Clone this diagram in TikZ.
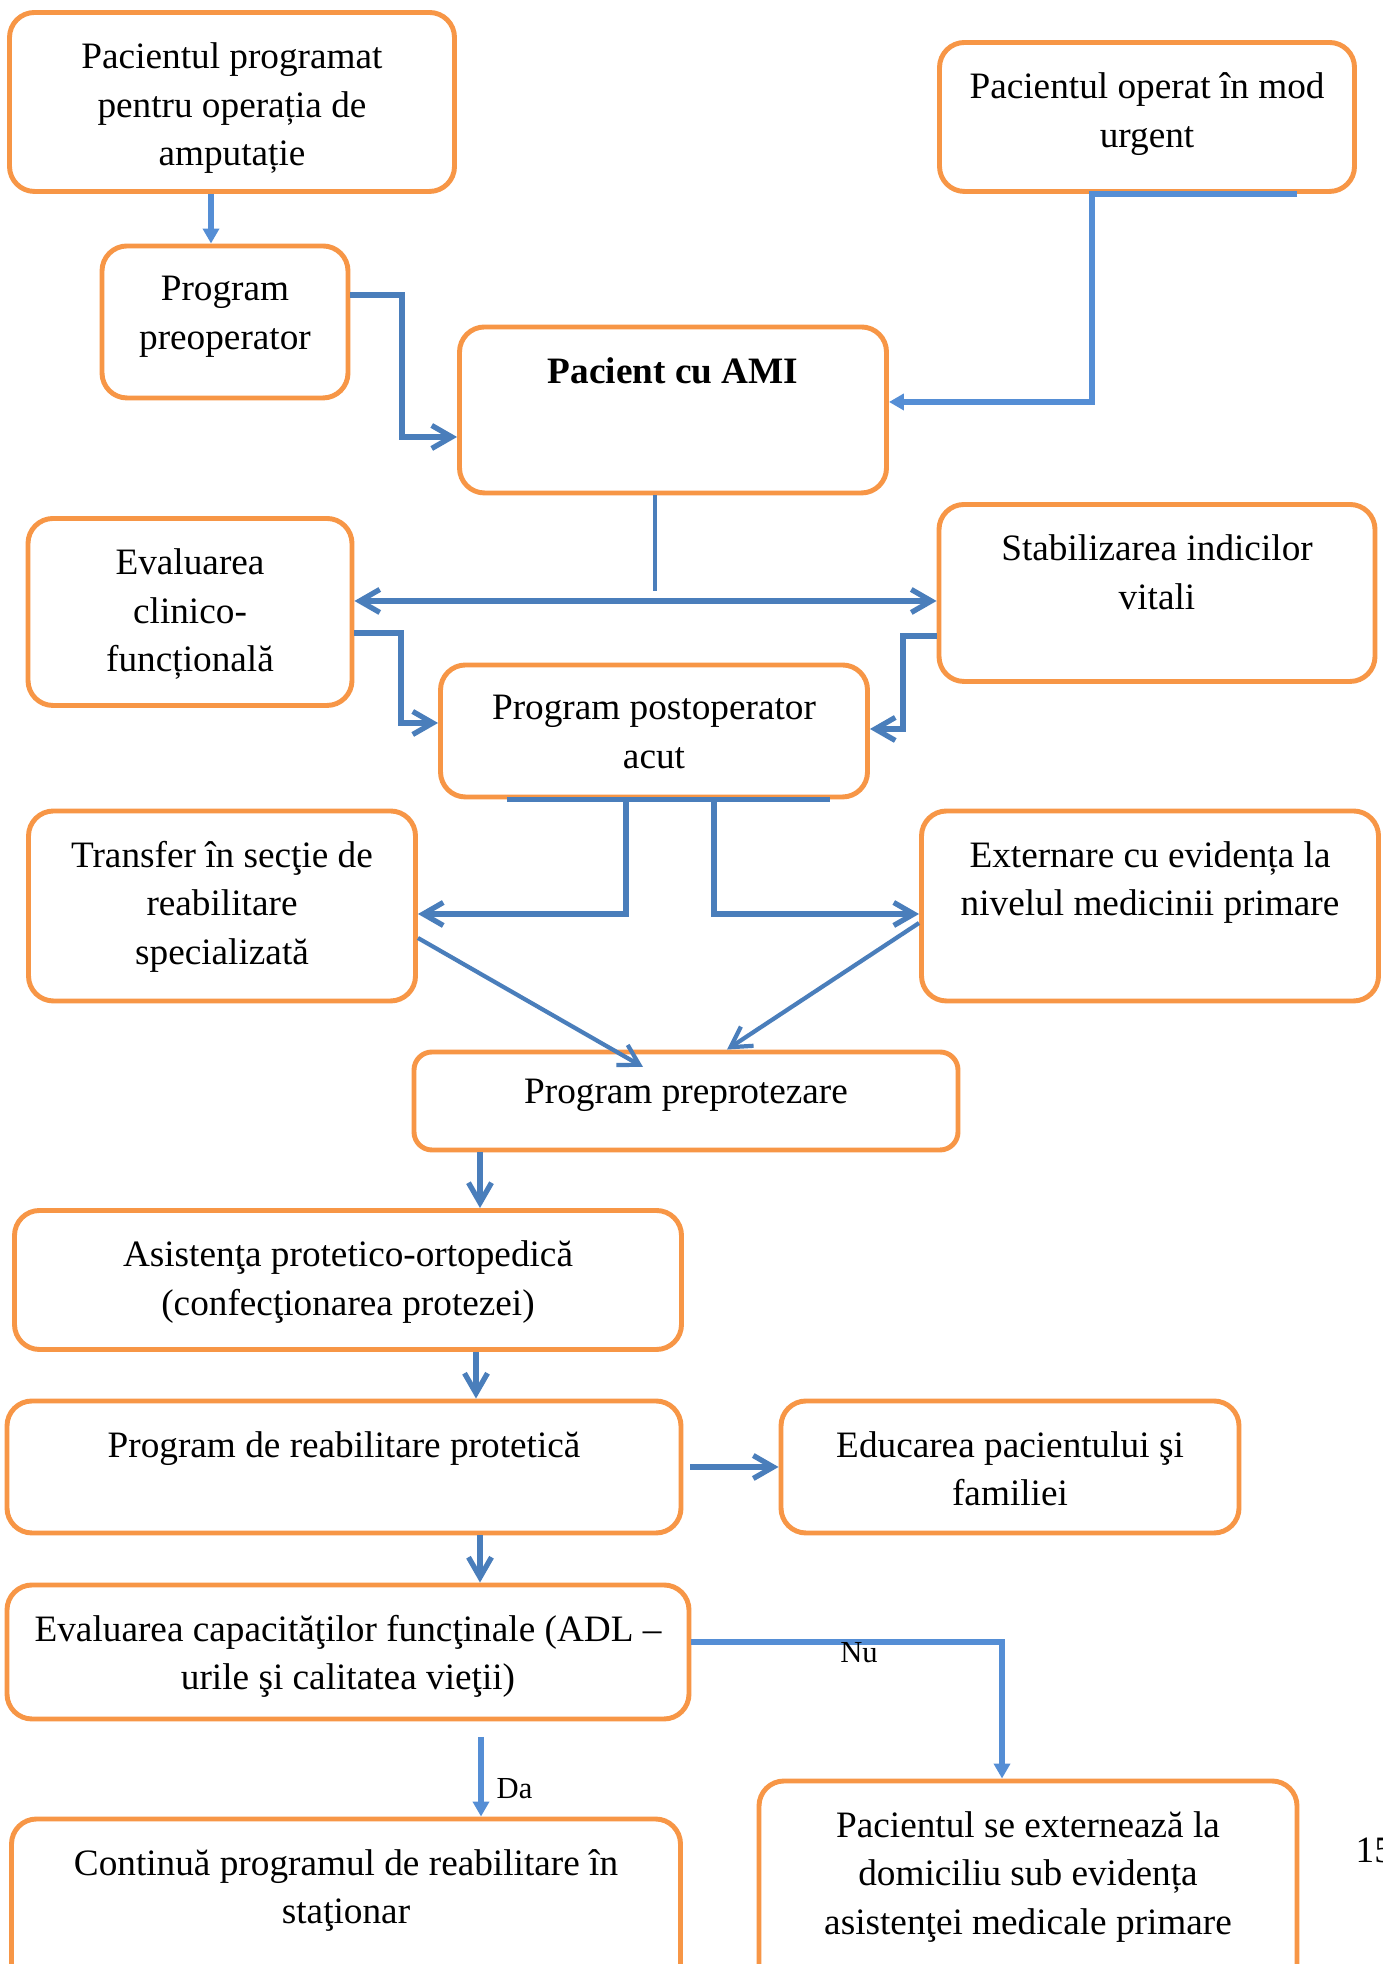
\documentclass[tikz,border=0pt]{standalone}
\usepackage{fontspec}
\setmainfont{Liberation Serif}
\usetikzlibrary{arrows.meta,positioning}
\definecolor{boxorange}{HTML}{F79646}
\definecolor{linkblue}{HTML}{4A7EBB}
\definecolor{leadblue}{HTML}{558ED5}
\begin{document}
\begin{tikzpicture}[
  >={Straight Barb[length=2mm,width=2.3mm]},
  box/.style={draw=boxorange, line width=1.4pt, rounded corners=0.25cm},
  txt/.style={align=center, inner sep=0pt, font=\fontsize{10.6}{13.8}\selectfont},
  link/.style={draw=linkblue, line width=1.5pt},
  lead/.style={draw=leadblue, line width=1.5pt, -{Triangle[length=1.5mm,width=1.6mm]}},
  lbl/.style={inner sep=0pt, font=\fontsize{8.7}{10}\selectfont}
]
\path[use as bounding box, fill=white] (0,0) rectangle (13.82,19.64);

\node[box, minimum width=4.45cm, minimum height=1.79cm] (amp) at (2.32,18.62) {};
\node[box, minimum width=4.15cm, minimum height=1.49cm] (urgent) at (11.47,18.47) {};
\node[box, minimum width=2.46cm, minimum height=1.52cm] (preop) at (2.25,16.42) {};
\node[box, minimum width=4.27cm, minimum height=1.66cm] (ami) at (6.73,15.54) {};
\node[box, minimum width=3.24cm, minimum height=1.87cm] (eval) at (1.90,13.52) {};
\node[box, minimum width=4.36cm, minimum height=1.77cm] (stab) at (11.57,13.71) {};
\node[box, minimum width=4.27cm, minimum height=1.32cm] (postop) at (6.54,12.33) {};
\node[box, minimum width=3.87cm, minimum height=1.90cm] (transfer) at (2.22,10.58) {};
\node[box, minimum width=4.57cm, minimum height=1.90cm] (extern) at (11.50,10.58) {};
\node[box, rounded corners=0.18cm, minimum width=5.44cm, minimum height=0.98cm] (preprot) at (6.86,8.63) {};
\node[box, minimum width=6.67cm, minimum height=1.39cm] (asist) at (3.48,6.84) {};
\node[box, minimum width=6.74cm, minimum height=1.32cm] (reab) at (3.44,4.97) {};
\node[box, minimum width=4.58cm, minimum height=1.32cm] (educ) at (10.10,4.97) {};
\node[box, minimum width=6.82cm, minimum height=1.34cm] (evalcap) at (3.48,3.12) {};
\node[box, minimum width=6.69cm, minimum height=2.0cm] (cont) at (3.46,0.45) {};
\node[box, minimum width=5.38cm, minimum height=2.3cm] (home) at (10.28,0.68) {};

\node[txt, below=0.32cm of amp.north] (ampT) {Pacientul programat\\pentru operația de\\amputație};
\node[txt, below=0.32cm of urgent.north] (urgentT) {Pacientul operat în mod\\urgent};
\node[txt, below=0.32cm of preop.north] (preopT) {Program\\preoperator};
\node[txt, below=0.32cm of ami.north] (amiT) {\bfseries Pacient cu AMI};
\node[txt, below=0.32cm of eval.north] (evalT) {Evaluarea\\clinico-\\funcțională};
\node[txt, below=0.32cm of stab.north] (stabT) {Stabilizarea indicilor\\vitali};
\node[txt, below=0.32cm of postop.north] (postopT) {Program postoperator\\acut};
\node[txt, below=0.32cm of transfer.north] (transferT) {Transfer în secţie de\\reabilitare\\specializată};
\node[txt, below=0.32cm of extern.north] (externT) {Externare cu evidența la\\nivelul medicinii primare};
\node[txt, below=0.29cm of preprot.north] (preprotT) {Program preprotezare};
\node[txt, below=0.32cm of asist.north] (asistT) {Asistenţa protetico-ortopedică\\(confecţionarea protezei)};
\node[txt, below=0.32cm of reab.north] (reabT) {Program de reabilitare protetică};
\node[txt, below=0.32cm of educ.north] (educT) {Educarea pacientului şi\\familiei};
\node[txt, below=0.32cm of evalcap.north] (evalcapT) {Evaluarea capacităţilor funcţinale (ADL –\\urile şi calitatea vieţii)};
\node[txt, below=0.32cm of cont.north] (contT) {Continuă programul de reabilitare în\\staţionar};
\node[txt, below=0.32cm of home.north] (homeT) {Pacientul se externează la\\domiciliu sub evidența\\asistenţei medicale primare};

\draw[lead] (amp.south -| 2.11,0) -- (preop.north -| 2.11,0);
\draw[link,->] (preop.east |- 0,16.69) -| (4.02,15.27) -- (ami.west |- 0,15.27);
\draw[lead] (urgent.south -| 12.97,0) -| (10.92,15.62) -- (ami.east |- 0,15.62);

\coordinate (split) at (6.55,13.73);
\draw[link, line width=1.1pt] (ami.south -| split) -- (split);
\draw[link,<->] (eval.east |- 0,13.63) -- (stab.west |- 0,13.63);
\draw[link,->] (eval.east |- 0,13.31) -| (4.01,12.41) -- (postop.west |- 0,12.41);
\draw[link,->] (stab.west |- 0,13.28) -| (9.03,12.35) -- (postop.east |- 0,12.35);

\draw[link] (postop.south -| 5.07,0) -- (postop.south -| 8.30,0);
\draw[link,->] (postop.south -| 6.26,0) |- (transfer.east |- 0,10.50);
\draw[link,->] (postop.south -| 7.14,0) |- (extern.west |- 0,10.50);

\coordinate (tipL) at (6.43,8.97);
\draw[link,->, line width=1.2pt] (transfer.east |- 0,10.26) -- (tipL);
\draw[link,->, line width=1.2pt] (extern.west |- 0,10.41) -- (preprot.north -| 7.27,0);

\draw[link,->] (preprot.south -| 4.80,0) -- (asist.north -| 4.80,0);
\draw[link,->] (asist.south -| 4.76,0) -- (reab.north -| 4.76,0);
\draw[link,->] ([xshift=0.07cm]reab.east) -- (educ.west);
\draw[link,->] (reab.south -| 4.80,0) -- (evalcap.north -| 4.80,0);

\draw[lead] (evalcap.east |- 0,3.22) -| (home.north -| 10.02,0);
\coordinate (yes) at (4.81,2.27);
\draw[lead] (yes) -- (cont.north -| yes);
\node[lbl, anchor=base] (nu) at (8.59,3.01) {Nu};
\node[lbl, anchor=base west] (da) at (4.96,1.65) {Da};
\node[txt, anchor=base west] (page) at (13.55,1.01) {15};
\end{tikzpicture}
\end{document}
